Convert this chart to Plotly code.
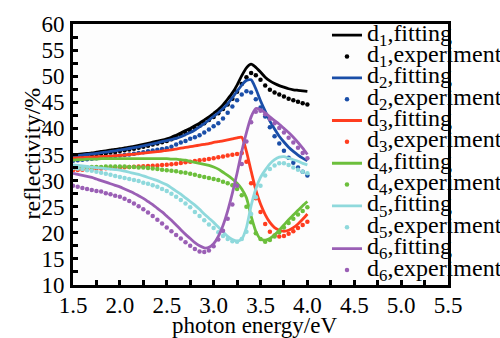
import plotly.graph_objects as go

energy = [1.50, 1.55, 1.60, 1.65, 1.70, 1.75, 1.80, 1.85, 1.90, 1.95,
          2.00, 2.05, 2.10, 2.15, 2.20, 2.25, 2.30, 2.35, 2.40, 2.45,
          2.50, 2.55, 2.60, 2.65, 2.70, 2.75, 2.80, 2.85, 2.90, 2.95,
          3.00, 3.05, 3.10, 3.15, 3.20, 3.25, 3.30, 3.35, 3.40, 3.45,
          3.50, 3.55, 3.60, 3.65, 3.70, 3.75, 3.80, 3.85, 3.90, 3.95, 4.00]

d1_fit = [34.9, 35.0, 35.1, 35.2, 35.3, 35.45, 35.6, 35.7, 35.85, 36.0,
          36.1, 36.25, 36.4, 36.55, 36.75, 36.95, 37.15, 37.35, 37.55, 37.75,
          38.0, 38.3, 38.7, 39.1, 39.6, 40.0, 40.5, 41.0, 41.6, 42.2,
          42.9, 43.6, 44.5, 45.6, 46.8, 48.3, 50.1, 51.6, 52.3, 51.7,
          50.8, 49.8, 49.1, 48.6, 48.2, 47.9, 47.6, 47.4, 47.3, 47.2, 47.1]
d1_exp = [34.5, 34.6, 34.7, 34.8, 34.9, 35.0, 35.15, 35.25, 35.4, 35.5,
          35.65, 35.8, 35.95, 36.1, 36.3, 36.5, 36.7, 36.9, 37.1, 37.35,
          37.6, 37.9, 38.3, 38.7, 39.1, 39.5, 40.0, 40.5, 41.0, 41.6,
          42.2, 42.9, 43.7, 44.6, 45.7, 47.0, 48.5, 49.8, 50.6, 50.2,
          49.3, 48.2, 47.4, 46.9, 46.5, 46.1, 45.7, 45.4, 45.1, 44.8, 44.6]
d2_fit = [34.7, 34.8, 34.9, 35.0, 35.1, 35.2, 35.35, 35.45, 35.6, 35.7,
          35.85, 36.0, 36.15, 36.3, 36.45, 36.65, 36.85, 37.05, 37.25, 37.45,
          37.65, 37.85, 38.1, 38.4, 38.8, 39.2, 39.7, 40.3, 40.9, 41.6,
          42.3, 43.0, 43.8, 44.7, 45.9, 47.1, 48.3, 49.2, 49.3, 47.6,
          45.3, 43.3, 41.4, 39.9, 38.5, 37.4, 36.4, 35.6, 34.9, 34.3, 33.8]
d2_exp = [33.8, 33.9, 34.0, 34.1, 34.2, 34.3, 34.4, 34.5, 34.6, 34.7,
          34.8, 34.9, 35.0, 35.15, 35.3, 35.45, 35.6, 35.75, 35.9, 36.05,
          36.2, 36.5, 36.9, 37.3, 37.6, 38.0, 38.3, 38.7, 39.2, 39.8,
          40.4, 41.0, 41.9, 43.0, 44.2, 45.4, 46.5, 47.1, 46.9, 45.6,
          44.0, 42.3, 40.2, 38.5, 37.1, 35.7, 34.4, 33.4, 32.5, 31.7, 31.0]
d3_fit = [34.3, 34.35, 34.4, 34.45, 34.5, 34.55, 34.6, 34.65, 34.7, 34.8,
          34.85, 34.9, 35.0, 35.05, 35.15, 35.25, 35.35, 35.45, 35.55, 35.65,
          35.8, 35.9, 36.05, 36.2, 36.35, 36.5, 36.65, 36.8, 36.95, 37.1,
          37.3, 37.45, 37.6, 37.8, 38.0, 38.2, 38.3, 35.6, 31.8, 28.2,
          25.5, 23.5, 22.0, 21.0, 20.5, 20.3, 20.5, 21.0, 21.7, 22.6, 23.6]
d3_exp = [32.0, 32.05, 32.1, 32.15, 32.2, 32.25, 32.3, 32.35, 32.4, 32.45,
          32.5, 32.55, 32.6, 32.65, 32.7, 32.75, 32.8, 32.85, 32.9, 33.0,
          33.05, 33.15, 33.25, 33.35, 33.5, 33.6, 33.75, 33.9, 34.0, 34.15,
          34.3, 34.45, 34.6, 34.8, 34.95, 35.1, 35.3, 33.6, 29.5, 26.6,
          24.0, 21.7, 20.2, 19.5, 19.3, 19.4, 19.8, 20.3, 20.9, 21.5, 22.1]
d4_fit = [33.9, 34.0, 34.0, 34.1, 34.1, 34.1, 34.2, 34.2, 34.2, 34.2,
          34.2, 34.2, 34.2, 34.2, 34.2, 34.2, 34.2, 34.2, 34.2, 34.2,
          34.2, 34.1, 34.1, 34.0, 33.9, 33.7, 33.5, 33.3, 33.1, 32.9,
          32.6, 32.2, 31.6, 31.0, 30.3, 29.5, 28.4, 26.7, 23.2, 20.3,
          18.8, 18.6, 18.9, 19.6, 20.5, 21.5, 22.5, 23.4, 24.3, 25.2, 26.0]
d4_exp = [32.4, 32.4, 32.5, 32.5, 32.6, 32.6, 32.6, 32.7, 32.7, 32.7,
          32.7, 32.7, 32.6, 32.6, 32.5, 32.5, 32.4, 32.3, 32.2, 32.1,
          32.0, 31.9, 31.8, 31.6, 31.5, 31.3, 31.1, 30.9, 30.7, 30.5,
          30.3, 30.1, 29.8, 29.5, 29.1, 28.4, 27.2, 25.0, 22.0, 19.9,
          18.8, 18.3, 18.6, 19.3, 20.1, 21.0, 21.9, 22.7, 23.5, 24.2, 24.9]
d5_fit = [33.0, 32.9, 32.8, 32.7, 32.6, 32.5, 32.4, 32.3, 32.2, 32.1,
          32.0, 31.8, 31.6, 31.4, 31.2, 30.9, 30.6, 30.3, 30.0, 29.6,
          29.2, 28.6, 28.0, 27.4, 26.7, 26.0, 25.3, 24.5, 23.6, 22.8,
          22.0, 21.1, 20.2, 19.3, 18.7, 18.4, 18.8, 21.0, 25.2, 28.4,
          30.6, 32.0, 33.2, 34.0, 34.5, 34.6, 34.3, 34.0, 33.7, 33.3, 33.0]
d5_exp = [32.4, 32.3, 32.2, 32.0, 31.9, 31.7, 31.5, 31.3, 31.1, 30.9,
          30.7, 30.5, 30.3, 30.1, 29.9, 29.6, 29.4, 29.1, 28.8, 28.4,
          28.0, 27.5, 26.9, 26.3, 25.6, 24.9, 24.0, 23.2, 22.4, 21.6,
          20.9, 20.1, 19.4, 18.8, 18.4, 18.3, 18.8, 20.2, 23.6, 26.8,
          29.0, 31.0, 32.2, 32.9, 33.3, 33.3, 33.0, 32.5, 32.1, 31.7, 31.4]
d6_fit = [31.4, 31.2, 31.0, 30.8, 30.6, 30.3, 30.0, 29.7, 29.4, 29.1,
          28.8, 28.4, 28.0, 27.6, 27.1, 26.6, 26.0, 25.4, 24.7, 24.0,
          23.2, 22.4, 21.5, 20.6, 19.7, 18.9, 18.1, 17.5, 17.1, 17.2,
          17.9, 19.3, 21.4, 24.2, 27.6, 31.4, 35.6, 39.2, 42.2, 43.8,
          43.6, 43.0, 42.2, 41.5, 40.8, 40.0, 39.2, 38.3, 37.3, 36.2, 35.0]
d6_exp = [29.0, 28.8, 28.6, 28.4, 28.2, 28.0, 27.9, 27.6, 27.4, 27.1,
          26.9, 26.5, 26.1, 25.6, 25.1, 24.5, 23.9, 23.2, 22.5, 21.8,
          21.0, 20.3, 19.6, 18.9, 18.2, 17.5, 16.9, 16.4, 16.3, 16.6,
          17.4, 18.7, 20.4, 22.7, 25.4, 29.0, 33.2, 37.5, 41.2, 43.2,
          43.4, 42.7, 41.8, 41.0, 40.1, 39.2, 38.2, 37.3, 36.3, 35.3, 34.3]

series = [
    ("1", d1_fit, d1_exp, "#000000"),
    ("2", d2_fit, d2_exp, "#1a4ea8"),
    ("3", d3_fit, d3_exp, "#ff3d1f"),
    ("4", d4_fit, d4_exp, "#6cbf3c"),
    ("5", d5_fit, d5_exp, "#8fd9dc"),
    ("6", d6_fit, d6_exp, "#9a5fb5"),
]

x_ticks = [1.5, 2.0, 2.5, 3.0, 3.5, 4.0, 4.5, 5.0, 5.5]
x_ticktext = ["1.5", "2.0", "2.5", "3.0", "3.5", "4.0", "4.5", "5.0", "5.5"]
y_ticks = [10, 15, 20, 25, 30, 35, 40, 45, 50, 55, 60]
x_title = "photon energy/eV"
y_title = "reflectivity/%"

SERIF = "Liberation Serif, Times New Roman, serif"

def lbl(idx, kind):
    return '<span style="font-size:24px">d<sub>%s</sub>,%s</span>' % (idx, kind)

fig = go.Figure()
for k, (idx, fit, exp, col) in enumerate(series):
    leg = "legend" if k < 3 else "legend2"
    fig.add_trace(go.Scatter(x=energy, y=fit, mode="lines", name=lbl(idx, "fitting"),
                             legend=leg,
                             line=dict(color=col, width=2.8, shape="spline", smoothing=0.6)))
    fig.add_trace(go.Scatter(x=energy, y=exp, mode="markers", name=lbl(idx, "experiment"),
                             legend=leg,
                             marker=dict(color=col, size=4.5)))

axis_common = dict(
    showline=True, linecolor="black", linewidth=3, mirror=True,
    ticks="inside", ticklen=5, tickwidth=2.5, tickcolor="black",
    showgrid=False, zeroline=False, automargin=False,
    tickfont=dict(family=SERIF, size=23, color="black"),
)

fig.update_xaxes(range=[1.5, 5.5], tickvals=x_ticks, ticktext=x_ticktext, ticklabelstandoff=-3,
                 minor=dict(dtick=0.25, ticks="inside", ticklen=5, tickwidth=2.5, tickcolor="black"),
                 **axis_common)
fig.update_yaxes(range=[10, 60], tickvals=y_ticks, ticklabelstandoff=1,
                 minor=dict(dtick=2.5, ticks="inside", ticklen=5, tickwidth=2.5, tickcolor="black"),
                 **axis_common)

fig.add_annotation(text=x_title, xref="paper", yref="paper", x=0.483, y=-0.1533,
                   xanchor="center", yanchor="middle", showarrow=False,
                   font=dict(family=SERIF, size=23, color="black"))
fig.add_annotation(text=y_title, xref="paper", yref="paper", x=-0.109, y=0.504,
                   xanchor="center", yanchor="middle", showarrow=False, textangle=-90,
                   font=dict(family=SERIF, size=24, color="black"))

leg_common = dict(xanchor="left", yanchor="top", bgcolor="rgba(0,0,0,0)", borderwidth=0,
                  font=dict(family=SERIF, size=14.12, color="black"),
                  tracegroupgap=0, itemwidth=30)

fig.update_layout(
    width=500, height=338,
    margin=dict(l=73, r=52, t=24, b=53, autoexpand=False),
    paper_bgcolor="white", plot_bgcolor="#fdfdfd",
    showlegend=True,
    legend=dict(x=0.6773, y=1.0176, **leg_common),
    legend2=dict(x=0.6773, y=0.5265, **leg_common),
    font=dict(family=SERIF, color="black"),
)

fig.write_html("out.html", config={"displayModeBar": False},
               post_script="document.body.style.margin='0px';")
